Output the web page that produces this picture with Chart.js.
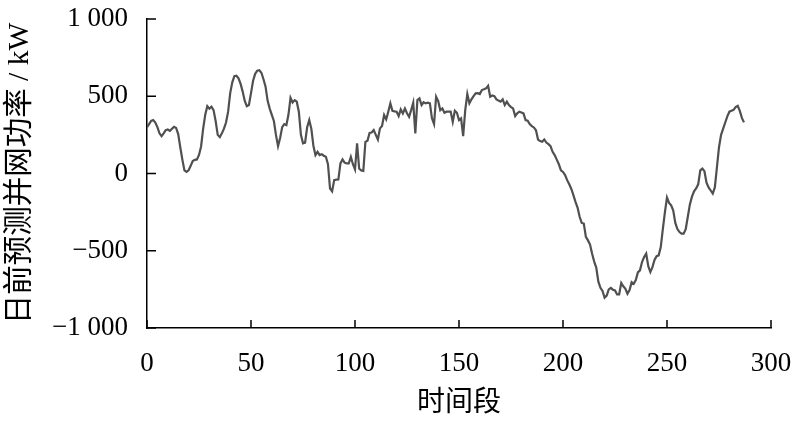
<!DOCTYPE html>
<html>
<head>
<meta charset="utf-8">
<script src="https://cdn.jsdelivr.net/npm/chart.js@4.4.1/dist/chart.umd.min.js"></script>
<style>
  body { margin: 0; background: #fff; }
  #chart { display: block; }
</style>
</head>
<body>
<canvas id="chart" width="800" height="423"></canvas>
<script>
// Valores de la serie: potencia prevista (kW) por periodo 0..287
const powerValues = [
  300, 320, 340, 346, 330, 300, 260, 242, 260, 281,
  285, 276, 290, 302, 295, 255, 170, 90, 20, 10,
  21, 50, 80, 88, 91, 120, 175, 290, 380, 436,
  420, 432, 410, 340, 250, 235, 260, 290, 330, 400,
  520, 590, 630, 633, 616, 580, 530, 470, 436, 443,
  520, 600, 645, 665, 668, 652, 610, 562, 470, 420,
  380, 340, 250, 177, 230, 300, 320, 313, 380, 490,
  460, 475, 465, 400, 250, 195, 200, 300, 346, 290,
  180, 119, 140, 119, 125, 115, 108, 60, -97, -115,
  -43, -40, -39, 65, 91, 70, 65, 65, 108, 60,
  26, 195, 32, 20, 17, 205, 212, 263, 265, 281,
  250, 220, 292, 307, 378, 350, 400, 454, 406, 402,
  400, 372, 415, 389, 421, 390, 367, 410, 458, 259,
  475, 486, 443, 461, 454, 458, 454, 357, 320, 497,
  469, 410, 421, 393, 400, 400, 400, 335, 406, 393,
  346, 357, 242, 410, 514, 454, 480, 501, 519, 520,
  514, 540, 545, 551, 568, 497, 505, 501, 480, 472,
  465, 480, 443, 465, 443, 430, 421, 372, 390, 400,
  395, 389, 346, 342, 320, 307, 298, 280, 220, 210,
  205, 220, 200, 190, 177, 140, 119, 90, 60, 21,
  10, -10, -43, -70, -100, -140, -184, -220, -280, -320,
  -324, -410, -433, -460, -520, -570, -610, -700, -740, -760,
  -804, -790, -750, -740, -752, -757, -783, -783, -709, -730,
  -746, -778, -755, -703, -714, -690, -640, -627, -573, -541,
  -519, -600, -638, -606, -560, -535, -530, -476, -360, -250,
  -156, -190, -206, -240, -320, -360, -379, -389, -389, -360,
  -280, -200, -150, -115, -97, -70, 20, 32, 15, -60,
  -90, -110, -130, -90, 40, 170, 250, 290, 330, 370,
  400, 406, 412, 430, 438, 405, 360, 331
];

// Periodos (eje x)
const periods = powerValues.map((v, i) => i);

// Marcas de los ejes
const xTicks = [0, 50, 100, 150, 200, 250, 300];
const yTicks = [-1000, -500, 0, 500, 1000];

const serif = "'Liberation Serif', 'Times New Roman', 'Noto Sans CJK SC', serif";

// Formato "1 000" con signo menos tipográfico
function formatNumber(v) {
  const abs = Math.abs(v).toString().replace(/\B(?=(\d{3})+(?!\d))/g, " ");
  return (v < 0 ? "\u2212" : "") + abs;
}

// Marcas hacia dentro del área del gráfico
const inwardTicks = {
  id: "inwardTicks",
  afterDraw(chart) {
    const { ctx, scales: { x, y } } = chart;
    ctx.save();
    ctx.strokeStyle = "#000";
    ctx.lineWidth = 1.5;
    ctx.beginPath();
    xTicks.forEach(v => {
      const px = x.getPixelForValue(v);
      ctx.moveTo(px, y.bottom);
      ctx.lineTo(px, y.bottom - 8);
    });
    yTicks.forEach(v => {
      const py = y.getPixelForValue(v);
      ctx.moveTo(x.left, py);
      ctx.lineTo(x.left + 9, py);
    });
    ctx.stroke();
    ctx.restore();
  }
};

new Chart(document.getElementById("chart").getContext("2d"), {
  type: "line",
  data: {
    datasets: [{
      data: periods.map((p, i) => ({ x: p, y: powerValues[i] })),
      borderColor: "#505050",
      borderWidth: 2.2,
      pointRadius: 0,
      tension: 0,
      fill: false
    }]
  },
  options: {
    responsive: false,
    devicePixelRatio: 1,
    animation: false,
    layout: { padding: { top: 19, right: 29, left: 0, bottom: 0 } },
    plugins: {
      legend: { display: false },
      tooltip: { enabled: false }
    },
    scales: {
      x: {
        type: "linear",
        min: 0,
        max: 300,
        afterFit: s => {
          s.height = 95;
          s.paddingLeft = 0;
          s.paddingRight = 0;
        },
        afterBuildTicks: s => { s.ticks = xTicks.map(v => ({ value: v })); },
        grid: { display: true, drawOnChartArea: false, drawTicks: false },
        border: { display: true, color: "#000", width: 1.5 },
        ticks: {
          padding: 20,
          color: "#000",
          maxRotation: 0,
          font: { family: serif, size: 27 }
        },
        title: {
          display: true,
          text: "时间段",
          color: "#000",
          padding: { top: 0, bottom: 3 },
          font: { family: serif, size: 28 }
        }
      },
      y: {
        min: -1000,
        max: 1000,
        afterFit: s => {
          s.width = 147;
          s.paddingTop = 0;
          s.paddingBottom = 0;
        },
        afterBuildTicks: s => { s.ticks = yTicks.map(v => ({ value: v })); },
        grid: { display: true, drawOnChartArea: false, drawTicks: false },
        border: { display: true, color: "#000", width: 1.5 },
        ticks: {
          padding: 19,
          color: "#000",
          font: { family: serif, size: 27 },
          callback: v => formatNumber(v)
        },
        title: {
          display: true,
          text: "日前预测并网功率 / kW",
          color: "#000",
          padding: { top: 3, bottom: 0 },
          font: { family: serif, size: 29.5 }
        }
      }
    }
  },
  plugins: [inwardTicks]
});
</script>
</body>
</html>
